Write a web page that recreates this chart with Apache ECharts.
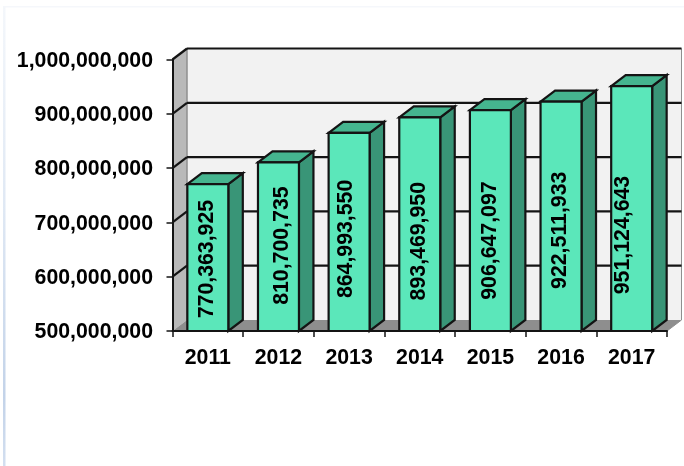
<!DOCTYPE html>
<html>
<head>
<meta charset="utf-8">
<style>html,body{margin:0;padding:0;background:#fff}#chart{width:684px;height:466px}</style>
<script src="https://cdn.jsdelivr.net/npm/echarts@6/dist/echarts.min.js"></script>
</head>
<body>
<div id="chart"></div>
<script>
// Yearly totals
const years = ['2011', '2012', '2013', '2014', '2015', '2016', '2017'];
const totals = [770363925, 810700735, 864993550, 893469950, 906647097, 922511933, 951124643];
const axisTicks = [500000000, 600000000, 700000000, 800000000, 900000000, 1000000000];

// Pseudo-3D depth of the chart box and the bars, in pixels
const DEPTH_X = 14.5, DEPTH_Y = -11;
const INK = '#141414';
const LABEL_FONT = 'bold 21.3px "Liberation Sans", Arial, sans-serif';
// Value labels sit a little off each bar's centre: [across, along]
const labelNudges = [[-0.8, 1.5], [3.5, -1], [-3, 7], [-0.7, 17], [0, 20], [-0.5, 14], [-8.7, 26.5]];

const fmt = v => v.toLocaleString('en-US');
const poly = (points, fill, stroke, lineWidth) => ({
  type: 'polygon',
  shape: { points },
  style: { fill, stroke, lineWidth, lineJoin: 'miter' }
});
const seg = (x1, y1, x2, y2, stroke, lineWidth) => ({
  type: 'line',
  shape: { x1, y1, x2, y2 },
  style: { stroke, lineWidth, lineCap: 'butt' }
});

// Back wall, side wall, floor and the gridlines that wrap round them
function renderBox(params, api) {
  const cs = params.coordSys;
  const L = cs.x, R = cs.x + cs.width, B = cs.y + cs.height, T = cs.y;
  const kids = [
    poly([[L + DEPTH_X, T + DEPTH_Y], [R + DEPTH_X, T + DEPTH_Y], [R + DEPTH_X, B + DEPTH_Y], [L + DEPTH_X, B + DEPTH_Y]], '#f2f2f2', null, 0),
    poly([[L, T], [L + DEPTH_X, T + DEPTH_Y], [L + DEPTH_X, B + DEPTH_Y], [L, B]], '#b9b9b9', null, 0),
    poly([[L, B], [R, B], [R + DEPTH_X, B + DEPTH_Y], [L + DEPTH_X, B + DEPTH_Y]], '#8e8e8e', null, 0),
    seg(L + DEPTH_X, T + DEPTH_Y, L + DEPTH_X, B + DEPTH_Y, '#8f8f8f', 1.5),
    seg(R + DEPTH_X, T + DEPTH_Y, R + DEPTH_X, B + DEPTH_Y, '#8f8f8f', 1),
    seg(R, B, R + DEPTH_X, B + DEPTH_Y, '#8f8f8f', 1)
  ];
  axisTicks.forEach(v => {
    const y = api.coord([0, v])[1];
    if (v > axisTicks[0]) {
      kids.push(seg(L, y, L + DEPTH_X, y + DEPTH_Y, INK, 2.2));
      kids.push(seg(L + DEPTH_X, y + DEPTH_Y, R + DEPTH_X, y + DEPTH_Y, INK, 2.2));
    }
  });
  return { type: 'group', children: kids };
}

// One extruded column with its rotated value label
function renderBar(params, api) {
  const i = api.value(0);
  const val = api.value(1);
  const top = api.coord([i, val]);
  const base = api.coord([i, axisTicks[0]]);
  const w = api.size([1, 0])[0] * 0.58;
  const x0 = top[0] - w / 2, x1 = top[0] + w / 2, y0 = top[1], y1 = base[1];
  const nudge = labelNudges[i];
  return {
    type: 'group',
    children: [
      poly([[x1, y0], [x1 + DEPTH_X, y0 + DEPTH_Y], [x1 + DEPTH_X, y1 + DEPTH_Y], [x1, y1]], '#399577', INK, 2.2),
      poly([[x0, y0], [x0 + DEPTH_X, y0 + DEPTH_Y], [x1 + DEPTH_X, y0 + DEPTH_Y], [x1, y0]], '#45b58f', INK, 2.2),
      poly([[x0, y0], [x1, y0], [x1, y1], [x0, y1]], '#5be7ba', INK, 2.2),
      {
        type: 'text',
        x: top[0] + nudge[0],
        y: (y0 + y1) / 2 + nudge[1],
        rotation: Math.PI / 2,
        style: {
          text: fmt(val),
          font: LABEL_FONT,
          fill: '#000',
          align: 'center',
          verticalAlign: 'middle'
        }
      }
    ]
  };
}

const chart = echarts.init(document.getElementById('chart'), null, { renderer: 'canvas' });
chart.setOption({
  animation: false,
  backgroundColor: '#fff',
  grid: { left: 172.5, top: 59.5, width: 494.5, height: 271.5, containLabel: false },
  graphic: [
    { type: 'rect', silent: true, z: 0, shape: { x: 4, y: 6, width: 680, height: 1.5 }, style: { fill: '#f5f7fb' } },
    {
      type: 'rect', silent: true, z: 0,
      shape: { x: 3, y: 6, width: 2.5, height: 460 },
      style: {
        fill: new echarts.graphic.LinearGradient(0, 0, 0, 1, [
          { offset: 0, color: '#f4f7fb' },
          { offset: 0.45, color: '#dfe8f4' },
          { offset: 0.85, color: '#c3d3e9' },
          { offset: 1, color: '#d3dff0' }
        ])
      }
    }
  ],
  xAxis: {
    type: 'category',
    data: years,
    z: 10,
    axisLine: { show: true, lineStyle: { color: INK, width: 2 } },
    axisTick: { show: true, alignWithLabel: false, length: 6, lineStyle: { color: INK, width: 1.5 } },
    axisLabel: { color: '#000', fontFamily: 'Liberation Sans', fontWeight: 'bold', fontSize: 21.3, margin: 17 }
  },
  yAxis: {
    type: 'value',
    min: axisTicks[0],
    max: axisTicks[axisTicks.length - 1],
    interval: axisTicks[1] - axisTicks[0],
    z: 10,
    splitLine: { show: false },
    axisLine: { show: true, lineStyle: { color: INK, width: 2 } },
    axisTick: { show: true, length: 6, lineStyle: { color: INK, width: 1.5 } },
    axisLabel: {
      color: '#000', fontFamily: 'Liberation Sans', fontWeight: 'bold', fontSize: 21.3, margin: 19.5,
      verticalAlign: 'top',
      lineHeight: 3,
      formatter: fmt
    }
  },
  series: [
    {
      type: 'custom',
      name: 'box',
      coordinateSystem: 'cartesian2d',
      renderItem: renderBox,
      data: [[0, axisTicks[0]]],
      clip: false,
      silent: true,
      z: 1
    },
    {
      type: 'custom',
      name: 'totals',
      coordinateSystem: 'cartesian2d',
      renderItem: renderBar,
      encode: { x: 0, y: 1 },
      data: totals.map((v, i) => [i, v]),
      clip: false,
      z: 2
    }
  ]
});
</script>
</body>
</html>
